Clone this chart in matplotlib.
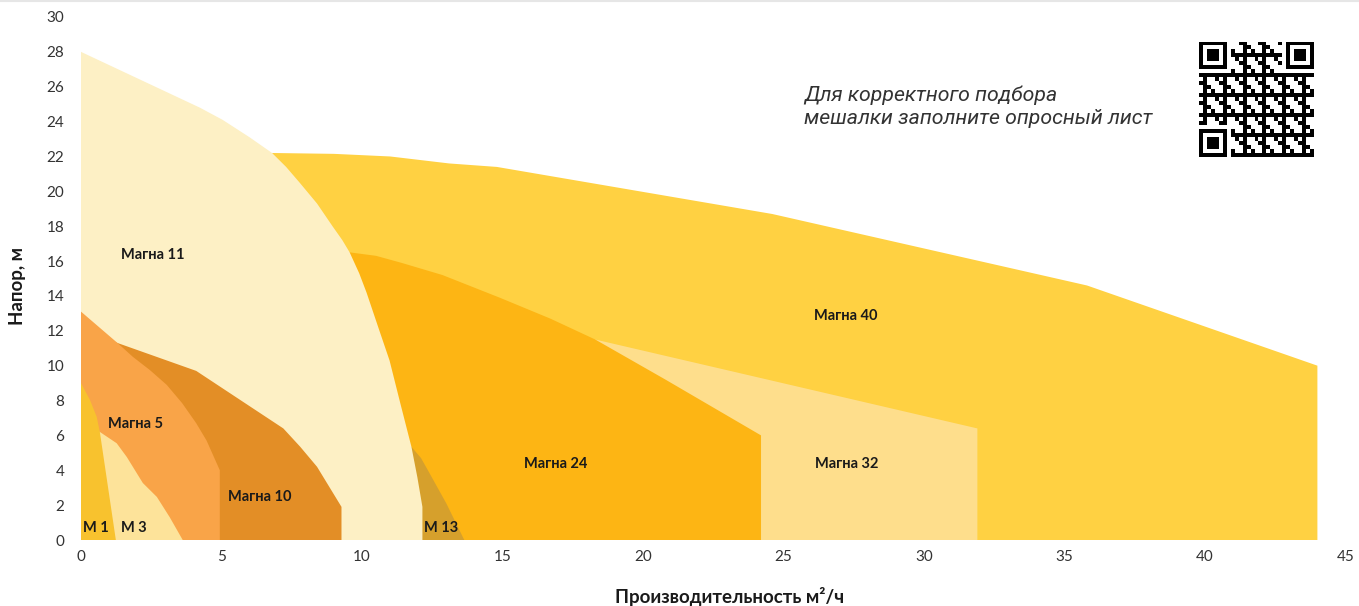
import numpy as np
import matplotlib
matplotlib.use('Agg')
import matplotlib.pyplot as plt
from matplotlib.patches import Polygon

plt.rcParams['font.family'] = ['Lato', 'DejaVu Sans']

# --- рабочие зоны насосов: (расход м3/ч, напор м) ---
magna40_q = [6.8, 6.8, 9.0, 11.0, 13.1, 14.8, 24.6, 35.8, 44.0, 44.0]
magna40_h = [0.0, 22.2, 22.15, 22.0, 21.6, 21.4, 18.7, 14.6, 10.0, 0.0]

magna32_q = [18.3, 18.3, 31.9, 31.9]
magna32_h = [0.0, 11.5, 6.4, 0.0]

magna24_q = [9.0, 9.0, 9.56, 10.5, 11.4, 12.86, 14.9, 16.7, 18.3, 20.8, 24.2, 24.2]
magna24_h = [0.0, 16.5, 16.5, 16.3, 15.9, 15.2, 13.9, 12.7, 11.5, 9.2, 6.0, 0.0]

m13_q = [11.0, 11.0, 11.76, 12.1, 12.4, 13.0, 13.64]
m13_h = [0.0, 6.5, 5.34, 4.7, 3.84, 2.1, 0.0]

magna11_q = [0.0, 0.0, 4.23, 5.04, 6.0, 6.8, 7.3, 7.78, 8.4, 8.95, 9.3, 9.56, 9.9, 10.16,
             10.6, 10.98, 11.37, 11.76, 11.97, 12.15, 12.15]
magna11_h = [0.0, 28.0, 24.8, 24.1, 23.1, 22.2, 21.4, 20.5, 19.3, 18.0, 17.2, 16.5, 15.3, 14.2,
             12.1, 10.3, 7.8, 5.34, 3.6, 1.9, 0.0]

magna10_q = [1.0, 1.0, 1.3, 4.1, 7.2, 7.8, 8.4, 9.27, 9.27]
magna10_h = [0.0, 11.5, 11.3, 9.7, 6.4, 5.35, 4.2, 1.9, 0.0]

magna5_q = [0.0, 0.0, 1.3, 1.85, 2.45, 3.05, 3.6, 4.1, 4.47, 4.94, 4.94]
magna5_h = [0.0, 13.1, 11.3, 10.5, 9.75, 8.9, 7.85, 6.7, 5.7, 4.0, 0.0]

m3_q = [0.5, 0.5, 0.67, 1.27, 1.63, 2.2, 2.7, 3.16, 3.62]
m3_h = [0.0, 6.3, 6.2, 5.55, 4.76, 3.27, 2.47, 1.3, 0.0]

m1_q = [0.0, 0.0, 0.32, 0.56, 0.67, 1.24]
m1_h = [0.0, 9.0, 8.03, 7.06, 6.2, 0.0]

zones = [
    ('Магна 40', magna40_q, magna40_h, '#FFD142', (27.2, 12.85)),
    ('Магна 32', magna32_q, magna32_h, '#FEDE8C', (27.25, 4.36)),
    ('Магна 24', magna24_q, magna24_h, '#FDB514', (16.9, 4.36)),
    ('M 13', m13_q, m13_h, '#D6A02C', (12.8, 0.7)),
    ('Магна 11', magna11_q, magna11_h, '#FDF0C5', (2.56, 16.35)),
    ('Магна 10', magna10_q, magna10_h, '#E38E26', (6.36, 2.47)),
    ('Магна 5', magna5_q, magna5_h, '#F9A448', (1.95, 6.65)),
    ('M 3', m3_q, m3_h, '#FDE39A', (1.88, 0.7)),
    ('M 1', m1_q, m1_h, '#F8C22E', (0.53, 0.7)),
]

x_ticks = [0, 5, 10, 15, 20, 25, 30, 35, 40, 45]
y_ticks = list(range(0, 31, 2))

fig = plt.figure(figsize=(13.59, 6.06), dpi=100)
ax = fig.add_axes([81 / 1359, 66 / 606, 1264.5 / 1359, 523 / 606])

for i, (name, q, h, color, pos) in enumerate(zones):
    poly = Polygon(np.column_stack([q, h]), closed=True, facecolor=color,
                   edgecolor='none', zorder=i + 1)
    ax.add_patch(poly)
    ax.text(pos[0], pos[1], name, ha='center', va='center', fontsize=10.5,
            fontweight='bold', color='#1a1a1a', zorder=20)

ax.set_xlim(0, 45)
ax.set_ylim(0, 30)
ax.set_xticks(x_ticks)
ax.set_yticks(y_ticks)
ax.tick_params(length=0, labelsize=11, labelcolor='#333333')
ax.tick_params(axis='x', pad=7)
ax.tick_params(axis='y', pad=12)
for s in ax.spines.values():
    s.set_visible(False)

fig.text(18 / 1359, 1 - 286 / 606, 'Напор, м', rotation=90, ha='center', va='center',
         fontsize=13.5, fontweight='bold', color='#1a1a1a')
fig.text(730 / 1359, 1 - 596 / 606, 'Производительность м²/ч', ha='center', va='center',
         fontsize=13.5, fontweight='bold', color='#1a1a1a')

fig.text(804 / 1359, 1 - 107 / 606, 'Для корректного подбора\nмешалки заполните опросный лист',
         ha='left', va='center', fontsize=15.3, style='italic', fontweight='normal',
         color='#333333', linespacing=1.3, family=['Roboto', 'DejaVu Sans'])

# QR-код (условный узор)
n = 29
ii, jj = np.meshgrid(np.arange(n), np.arange(n), indexing='ij')
qr = ((ii * 7 + jj * 11 + ii * jj * 3) % 5 < 2).astype(float)
for r0, c0 in [(0, 0), (0, n - 7), (n - 7, 0)]:
    qr[max(r0 - 1, 0):r0 + 8, max(c0 - 1, 0):c0 + 8] = 0
    qr[r0:r0 + 7, c0:c0 + 7] = 1
    qr[r0 + 1:r0 + 6, c0 + 1:c0 + 6] = 0
    qr[r0 + 2:r0 + 5, c0 + 2:c0 + 5] = 1
qax = fig.add_axes([1199 / 1359, 1 - 157 / 606, 115 / 1359, 115 / 606])
qax.imshow(qr, cmap='Greys', interpolation='nearest', aspect='auto')
qax.axis('off')

fig.add_artist(plt.Line2D([0, 1], [0.998, 0.998], color='#e6e6e6', lw=1.5))

fig.savefig('out.png', dpi=100)
